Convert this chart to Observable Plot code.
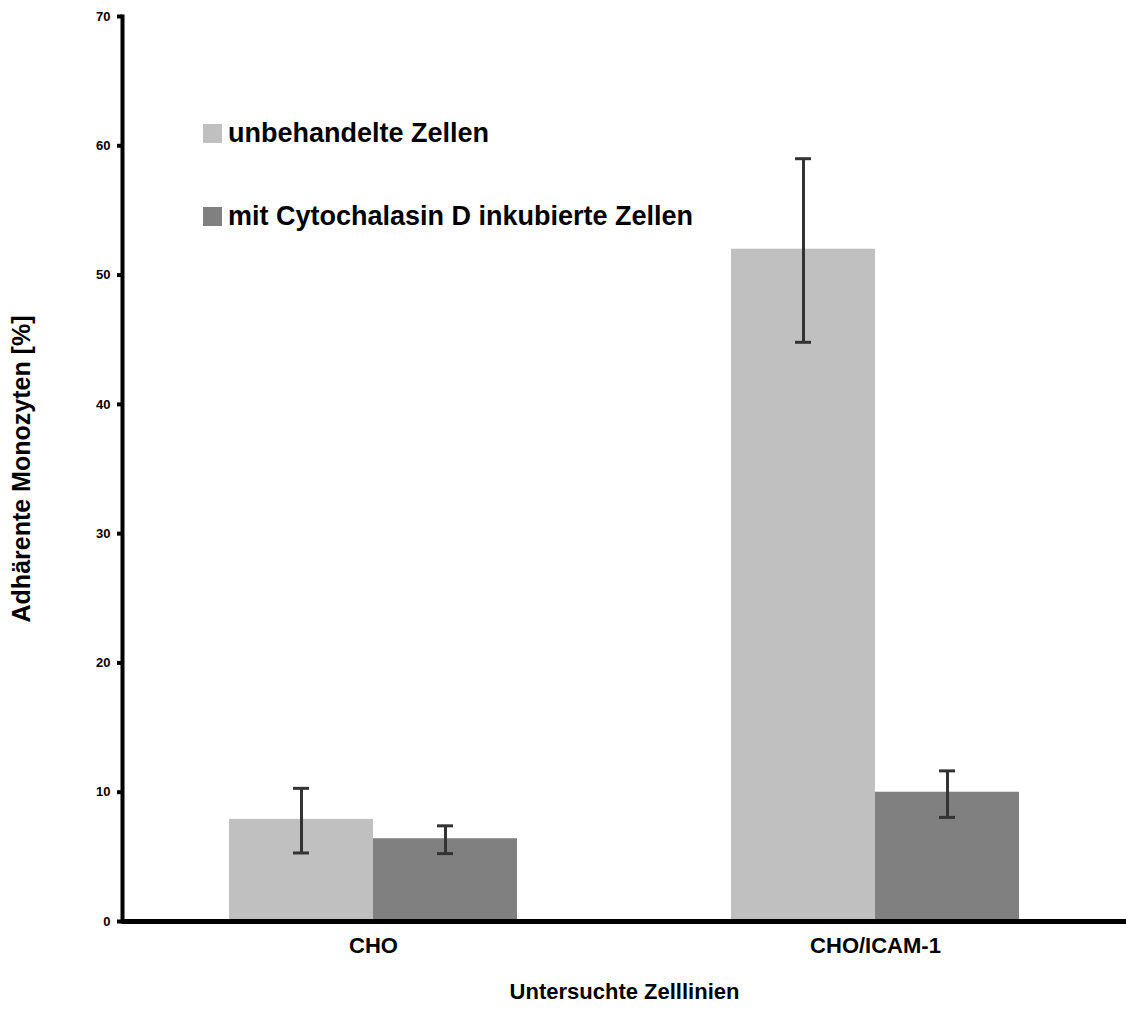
<!DOCTYPE html>
<html>
<head>
<meta charset="utf-8">
<script src="https://cdn.jsdelivr.net/npm/d3@7"></script>
<script src="https://cdn.jsdelivr.net/npm/@observablehq/plot@0.6"></script>
<style>
  html, body { margin: 0; padding: 0; background: #fff; }
  #wrap { position: relative; width: 1126px; height: 1032px; font-family: "Liberation Sans", Arial, sans-serif; }
  #legend { position: absolute; left: 203px; top: 124px; display: flex; flex-direction: column; gap: 64px; }
  .lg-row { display: flex; align-items: center; height: 19px; }
  .lg-sw { width: 19px; height: 19px; margin-right: 6px; flex: none; }
  .lg-tx { font-size: 27px; font-weight: bold; color: #000; white-space: nowrap; line-height: 19px; }
</style>
</head>
<body>
<div id="wrap"></div>
<script>
const categories = ["CHO", "CHO/ICAM-1"];
const series = ["unbehandelte Zellen", "mit Cytochalasin D inkubierte Zellen"];
const meanUntreated = [7.9, 52.0];
const meanCytochalasin = [6.4, 10.0];
const lowUntreated = [5.3, 44.8];
const highUntreated = [10.3, 59.0];
const lowCytochalasin = [5.25, 8.05];
const highCytochalasin = [7.4, 11.65];
const yTicks = [0, 10, 20, 30, 40, 50, 60, 70];
const seriesColors = ["#c0c0c0", "#808080"];
const xTitle = "Untersuchte Zelllinien";
const yTitle = "Adhärente Monozyten [%]";

const rows = [];
categories.forEach((c, i) => {
  rows.push({cat: c, series: series[0], value: meanUntreated[i], lo: lowUntreated[i], hi: highUntreated[i]});
  rows.push({cat: c, series: series[1], value: meanCytochalasin[i], lo: lowCytochalasin[i], hi: highCytochalasin[i]});
});

const font = "Liberation Sans, Arial, sans-serif";

const chart = Plot.plot({
  width: 1126,
  height: 1032,
  marginLeft: 121,
  marginRight: 0,
  marginTop: 16,
  marginBottom: 111,
  style: {fontFamily: font, background: "#fff", color: "#000"},
  fx: {domain: categories, paddingInner: 0, paddingOuter: 0, axis: null},
  x: {domain: series, paddingInner: 0, paddingOuter: 0.739, axis: null},
  y: {domain: [0, 70], axis: null},
  color: {domain: series, range: seriesColors},
  marks: [
    Plot.barY(rows, {fx: "cat", x: "series", y: "value", fill: "series"}),
    Plot.ruleX(rows, {fx: "cat", x: "series", y1: "lo", y2: "hi", stroke: "#333", strokeWidth: 3}),
    Plot.tickY(rows, {fx: "cat", x: "series", y: "lo", stroke: "#333", strokeWidth: 3, insetLeft: 64, insetRight: 64}),
    Plot.tickY(rows, {fx: "cat", x: "series", y: "hi", stroke: "#333", strokeWidth: 3, insetLeft: 64, insetRight: 64}),
    Plot.ruleY([0], {stroke: "#000", strokeWidth: 5}),
    Plot.frame({anchor: "left", stroke: "#000", strokeWidth: 4, facetAnchor: "left"}),
    Plot.axisY({ticks: yTicks, tickSize: 5, tickPadding: 7, strokeWidth: 4, fontSize: 13, fontWeight: "bold", label: null, tickFormat: d => String(d)}),
    Plot.axisY({ticks: [], tickSize: 0, label: yTitle, labelAnchor: "center", labelArrow: "none", labelOffset: 110, fontSize: 25, fontWeight: "bold"}),
    Plot.axisFx({anchor: "bottom", tickSize: 0, tickPadding: 16, fontSize: 22, fontWeight: "bold", label: xTitle, labelAnchor: "center", labelArrow: "none", labelOffset: 77})
  ]
});

const wrap = document.getElementById("wrap");
wrap.appendChild(chart);

const colorScale = chart.scale("color");
const legend = document.createElement("div");
legend.id = "legend";
series.forEach(s => {
  const row = document.createElement("div");
  row.className = "lg-row";
  const sw = document.createElement("span");
  sw.className = "lg-sw";
  sw.style.background = colorScale.apply(s);
  const tx = document.createElement("span");
  tx.className = "lg-tx";
  tx.textContent = s;
  row.appendChild(sw);
  row.appendChild(tx);
  legend.appendChild(row);
});
wrap.appendChild(legend);
</script>
</body>
</html>
